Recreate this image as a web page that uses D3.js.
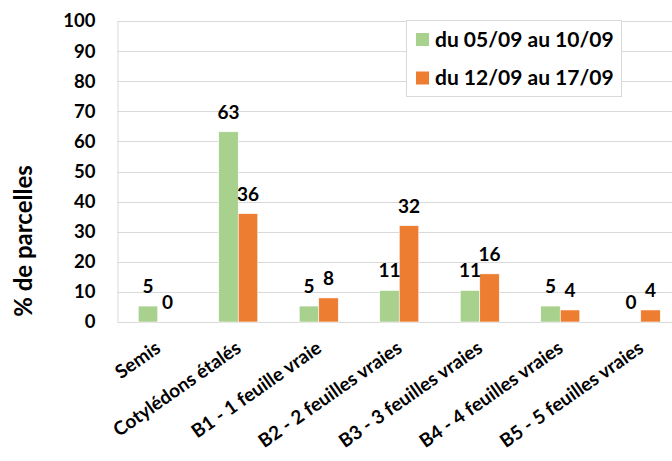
<!DOCTYPE html>
<html lang="fr">
<head>
  <meta charset="UTF-8" />
  <title>% de parcelles par stade</title>
  <script src="https://d3js.org/d3.v7.min.js"></script>
  <style>
    body { margin: 0; background: #fff; }
    svg { display: block; font-family: Lato, "Noto Sans", sans-serif; font-weight: bold; }
    .grid line { stroke: #d9d9d9; stroke-width: 1; }
  </style>
</head>
<body>
  <svg width="672" height="461"></svg>

  <script>
    const categories = ["Semis", "Cotylédons étalés", "B1 - 1 feuille vraie", "B2 - 2 feuilles vraies",
      "B3 - 3 feuilles vraies", "B4 - 4 feuilles vraies", "B5 - 5 feuilles vraies"];
    const seriesNames = ["du 05/09 au 10/09", "du 12/09 au 17/09"];
    const week1 = [5.3, 63.2, 5.3, 10.5, 10.5, 5.3, 0];
    const week2 = [0, 36, 8, 32, 16, 4, 4];
    const yTicks = [0, 10, 20, 30, 40, 50, 60, 70, 80, 90, 100];
    const colors = ["#a9d18e", "#ed7d31"];

    const svg = d3.select("svg");
    const plotL = 117.5, plotR = 681, plotT = 21, plotB = 322;

    const y = d3.scaleLinear().domain([0, 100]).range([plotB, plotT]);
    const x0 = d3.scaleBand().domain(categories).range([plotL, plotR])
      .paddingInner(0.515).paddingOuter(0.2575);
    const x1 = d3.scaleBand().domain([0, 1]).range([0, x0.bandwidth()]);

    // grille
    svg.append("g").attr("class", "grid")
      .selectAll("line").data(yTicks).join("line")
      .attr("x1", plotL).attr("x2", plotR)
      .attr("y1", d => Math.round(y(d)) + 0.5).attr("y2", d => Math.round(y(d)) + 0.5);
    svg.append("line")
      .attr("x1", plotL + 0.5).attr("x2", plotL + 0.5)
      .attr("y1", plotT).attr("y2", plotB)
      .attr("stroke", "#d9d9d9");

    // axe y
    const yAxis = svg.append("g")
      .attr("transform", `translate(${plotL - 22},0)`)
      .call(d3.axisLeft(y).tickValues(yTicks).tickSize(0).tickPadding(0));
    yAxis.select(".domain").remove();
    yAxis.selectAll("text")
      .attr("font-size", 18.5).attr("font-family", "Lato, sans-serif")
      .attr("font-weight", "bold").attr("fill", "#000");

    svg.append("text")
      .attr("transform", "translate(32,241) rotate(-90)")
      .attr("text-anchor", "middle")
      .attr("font-size", 24)
      .text("% de parcelles");

    // barres
    const rows = categories.map((c, i) => ({ cat: c, vals: [week1[i], week2[i]] }));
    const groups = svg.append("g").selectAll("g").data(rows).join("g")
      .attr("transform", d => `translate(${x0(d.cat)},0)`);

    groups.selectAll("rect").data(d => d.vals).join("rect")
      .attr("x", (d, i) => x1(i))
      .attr("width", x1.bandwidth())
      .attr("y", d => y(d))
      .attr("height", d => plotB - y(d))
      .attr("fill", (d, i) => colors[i])
      .attr("stroke", "#fff").attr("stroke-width", 0.6);

    groups.selectAll("text").data(d => d.vals).join("text")
      .attr("x", (d, i) => x1(i) + x1.bandwidth() / 2)
      .attr("y", d => y(d) - 13)
      .attr("text-anchor", "middle")
      .attr("font-size", 19)
      .text(d => Math.round(d));

    // axe x
    svg.append("g").selectAll("text").data(categories).join("text")
      .attr("transform", d => `translate(${x0(d) + x0.bandwidth() / 2 + 4},351) rotate(-35)`)
      .attr("text-anchor", "end")
      .attr("font-size", 19)
      .text(d => d);

    // légende
    const lg = svg.append("g");
    lg.append("rect")
      .attr("x", 406.5).attr("y", 20.5).attr("width", 215).attr("height", 76)
      .attr("fill", "#fff").attr("stroke", "#d9d9d9");
    seriesNames.forEach((s, i) => {
      lg.append("rect")
        .attr("x", 416).attr("y", 33 + i * 38.5).attr("width", 13).attr("height", 13)
        .attr("fill", colors[i]);
      lg.append("text")
        .attr("x", 435).attr("y", 46.5 + i * 38)
        .attr("font-size", 21)
        .text(s);
    });
  </script>
</body>
</html>
